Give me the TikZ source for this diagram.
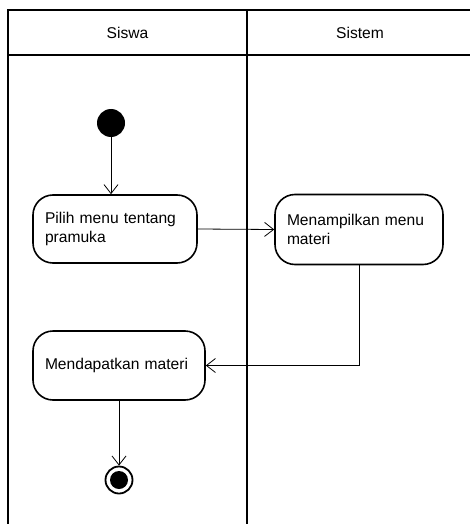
\documentclass[tikz,border=0pt]{standalone}
\usepackage{fontspec}
\setmainfont{Liberation Sans}
\usetikzlibrary{arrows.meta}
\begin{document}
\begin{tikzpicture}[x=1pt,y=-1pt,
  lane/.style={line width=2pt},
  act/.style={draw,line width=1.6pt,rounded corners=20pt,inner sep=0pt,
    font=\fontsize{15.6}{19}\selectfont,align=left},
  flow/.style={line width=0.8pt,-{Straight Barb[length=9pt,width=14pt,line width=0.8pt]}},
  lbl/.style={font=\fontsize{15.6}{19}\selectfont}]
\useasboundingbox (0,0) rectangle (470,524);
% swimlanes
\draw[lane] (8,524) -- (8,10) -- (472,10);
\draw[lane] (8,55) -- (472,55);
\draw[lane] (247,10) -- (247,524);
\node[lbl] (h1) at (127.5,33) {Siswa};
\node[lbl] (h2) at (360,33) {Sistem};
% start
\node[circle,fill=black,minimum size=28pt,inner sep=0pt] (start) at (111,123) {};
% activities
\node[act,minimum width=164pt,minimum height=68pt,text width=140pt] (a1) at (115,229) {Pilih menu tentang\\pramuka};
\node[act,minimum width=168pt,minimum height=70pt,text width=144pt] (a2) at (359,229.5) {Menampilkan menu\\materi};
\node[act,minimum width=172pt,minimum height=69pt,text width=148pt] (a3) at (119,365.5) {Mendapatkan materi};
% end
\node[circle,draw,line width=1.8pt,minimum size=27pt,inner sep=0pt] (end) at (119,480) {};
\node[circle,fill=black,minimum size=18pt,inner sep=0pt] (endin) at (end.center) {};
% flows
\draw[flow] (start) -- (a1.north -| start);
\draw[flow] (a1.east) -- (a2.west);
\draw[flow] (a2.south) -- (a2.south |- a3.east) -- (a3.east);
\draw[flow] (a3.south) -- (end.north);
\end{tikzpicture}
\end{document}
